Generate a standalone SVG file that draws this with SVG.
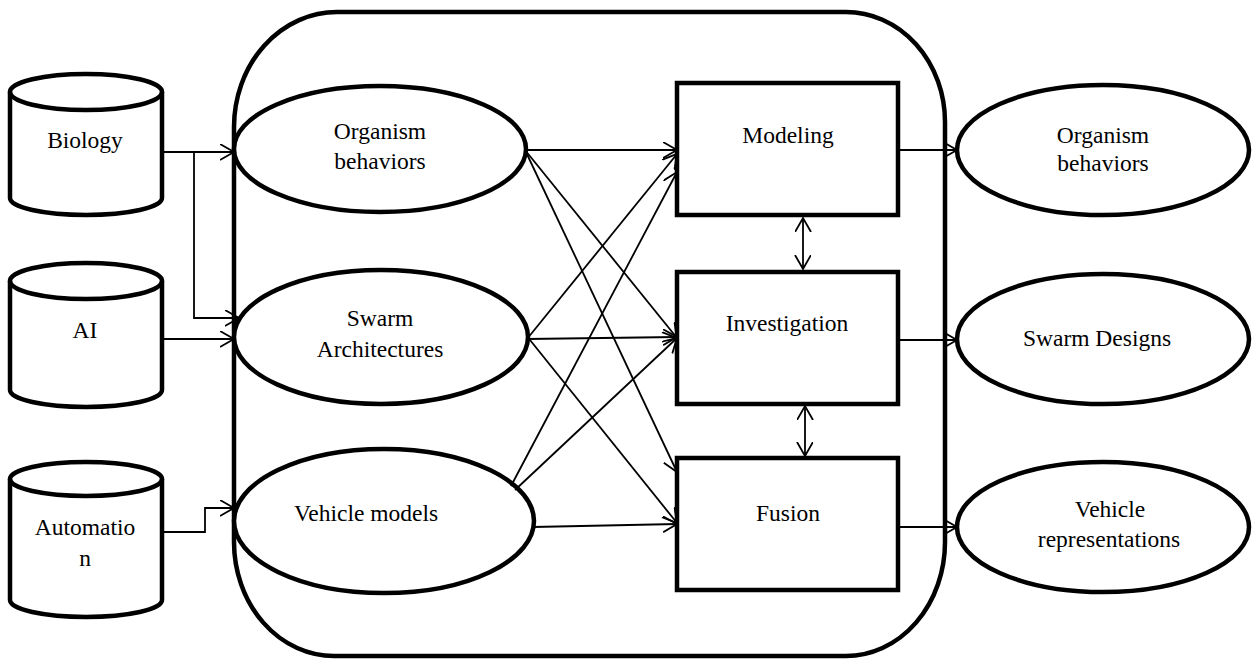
<svg xmlns="http://www.w3.org/2000/svg" width="1257" height="660" viewBox="0 0 1257 660">
  <defs>
    <marker id="arrow" markerUnits="userSpaceOnUse" markerWidth="16" markerHeight="18" refX="14" refY="8" orient="auto-start-reverse" viewBox="0 0 16 18">
      <path d="M0,0 L14,8 L0,16" fill="none" stroke="#000" stroke-width="1.8"/>
    </marker>
    <style>
      .shape { fill: #fff; stroke: #000; stroke-width: 4.5; }
      .frame { fill: none; stroke: #000; stroke-width: 4.5; }
      .link { fill: none; stroke: #000; stroke-width: 1.8; marker-end: url(#arrow); }
      .both { marker-start: url(#arrow); }
      text { font-size: 23.5px; fill: #000; text-anchor: middle; }
    </style>
  </defs>
  <rect width="1257" height="660" fill="#fff"/>

  <g font-family="Liberation Serif, DejaVu Serif, serif">
  <!-- enclosing process frame -->
  <g id="frame">
    <path class="frame" d="M234,127 A103,115 0 0,1 337,12 L846,12 A99,110 0 0,1 945,122 L945,542 A99,114 0 0,1 846,656 L334,656 A100,114 0 0,1 234,542 Z"/>
  </g>

  <!-- data sources -->
  <g id="src-biology">
    <path class="shape" d="M10,92 A76,18 0 0,1 162,92 L162,198 A76,17 0 0,1 10,198 Z"/>
    <path class="frame" d="M10,92 A76,18 0 0,0 162,92"/>
    <text x="85" y="148">Biology</text>
  </g>
  <g id="src-ai">
    <path class="shape" d="M10,281 A76,18 0 0,1 162,281 L162,390 A76,17 0 0,1 10,390 Z"/>
    <path class="frame" d="M10,281 A76,18 0 0,0 162,281"/>
    <text x="85" y="338">AI</text>
  </g>
  <g id="src-automation">
    <path class="shape" d="M10,479 A76,17 0 0,1 162,479 L162,600 A76,17 0 0,1 10,600 Z"/>
    <path class="frame" d="M10,479 A76,17 0 0,0 162,479"/>
    <text x="85" y="535">Automatio</text>
    <text x="85" y="566">n</text>
  </g>

  <!-- inputs inside the frame -->
  <g id="in-organism">
    <ellipse class="shape" cx="380" cy="149" rx="146" ry="63"/>
    <text x="380" y="139">Organism</text>
    <text x="380" y="169">behaviors</text>
  </g>
  <g id="in-swarm">
    <ellipse class="shape" cx="381" cy="337" rx="147" ry="67"/>
    <text x="380" y="326">Swarm</text>
    <text x="380" y="357">Architectures</text>
  </g>
  <g id="in-vehicle">
    <ellipse class="shape" cx="384" cy="521" rx="150" ry="72"/>
    <text x="366" y="521">Vehicle models</text>
  </g>

  <!-- processing stages -->
  <g id="stage-modeling">
    <rect class="shape" x="677" y="83" width="221" height="132"/>
    <text x="788" y="143">Modeling</text>
  </g>
  <g id="stage-investigation">
    <rect class="shape" x="677" y="272" width="221" height="132"/>
    <text x="787" y="331">Investigation</text>
  </g>
  <g id="stage-fusion">
    <rect class="shape" x="677" y="458" width="221" height="132"/>
    <text x="788" y="521">Fusion</text>
  </g>

  <!-- outputs -->
  <g id="out-organism">
    <ellipse class="shape" cx="1103" cy="150" rx="146" ry="65"/>
    <text x="1103" y="143">Organism</text>
    <text x="1103" y="171">behaviors</text>
  </g>
  <g id="out-swarm">
    <ellipse class="shape" cx="1103" cy="339" rx="146" ry="65"/>
    <text x="1097" y="346">Swarm Designs</text>
  </g>
  <g id="out-vehicle">
    <ellipse class="shape" cx="1103" cy="527" rx="146" ry="65"/>
    <text x="1110" y="517">Vehicle</text>
    <text x="1109" y="547">representations</text>
  </g>

  <!-- connectors -->
  <g id="connectors">
    <path class="link" d="M162,152 L234,152"/>
    <path class="link" d="M194,152 L194,318 L239,318"/>
    <path class="link" d="M162,339 L234,339"/>
    <path class="link" d="M162,532 L205,532 L205,508 L234,508"/>

    <path class="link" d="M525,150 L677,150"/>
    <path class="link" d="M525,150 L677,338"/>
    <path class="link" d="M525,150 L677,472"/>
    <path class="link" d="M527,339 L677,154"/>
    <path class="link" d="M527,339 L677,337"/>
    <path class="link" d="M530,340 L677,523"/>
    <path class="link" d="M511,486 L677,172"/>
    <path class="link" d="M515,490 L677,338"/>
    <path class="link" d="M533,527 L677,524"/>

    <path class="link" d="M898,150 L957,150"/>
    <path class="link" d="M898,340 L957,340"/>
    <path class="link" d="M898,527 L957,527"/>

    <path class="link both" d="M803,218 L803,269"/>
    <path class="link both" d="M805,406 L805,456"/>
  </g>
  </g>
</svg>
